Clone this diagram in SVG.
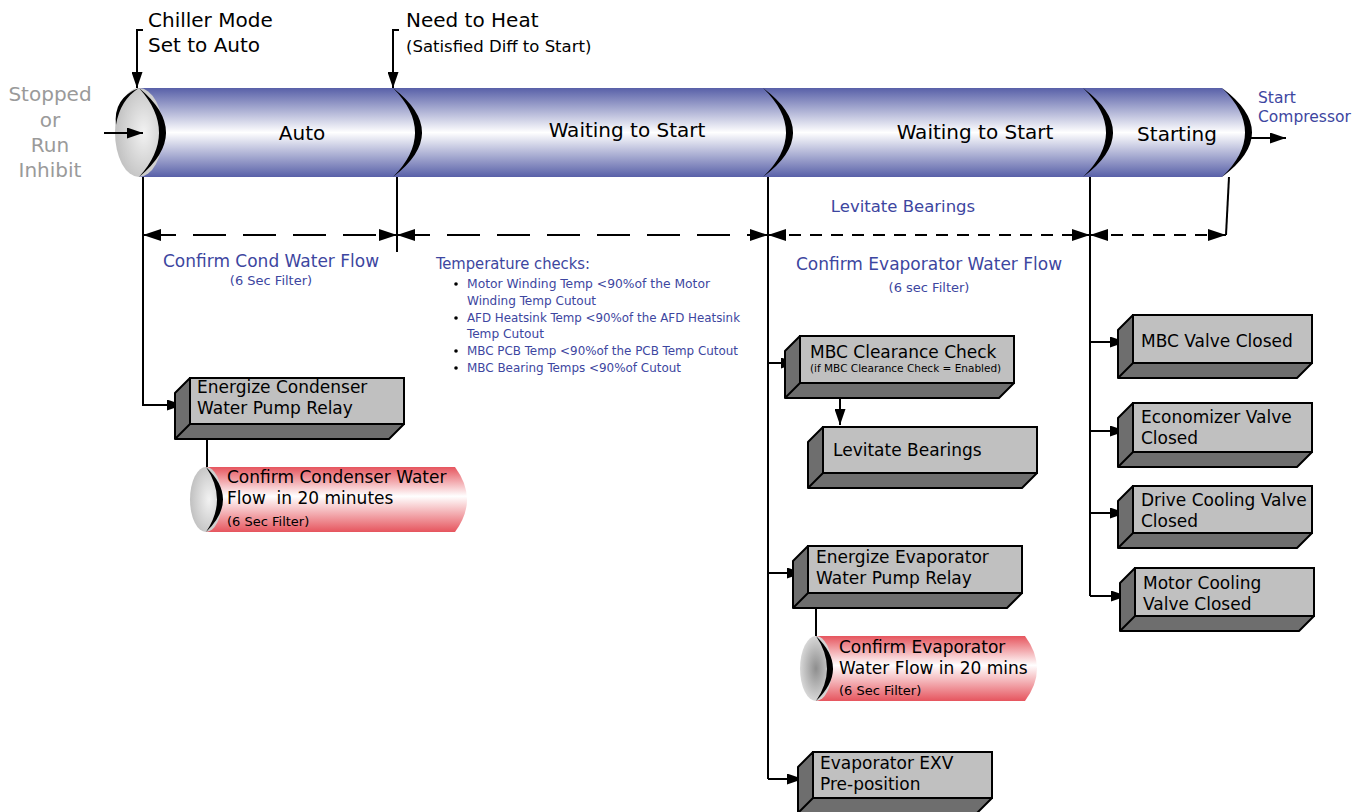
<svg xmlns="http://www.w3.org/2000/svg" width="1367" height="812" viewBox="0 0 1367 812">
<style>
.t{font-family:"DejaVu Sans","Liberation Sans",sans-serif;fill:#000}
.big{font-size:20px}
.bx{font-size:17px}
.blue{fill:#3d46a0}
.grey{fill:#9a9a9a}
.cond{font-family:"DejaVu Sans Condensed","DejaVu Sans","Liberation Sans",sans-serif;fill:#3d46a0}
.front{fill:#c0c0c0;stroke:#000;stroke-width:2}
.side{fill:#6e6e6e;stroke:#000;stroke-width:2;stroke-linejoin:round}
.ln{fill:none;stroke:#000;stroke-width:2}
.dl{fill:none;stroke:#000;stroke-width:2;stroke-dasharray:33 17}
.ds{fill:none;stroke:#000;stroke-width:2;stroke-dasharray:12 9}
</style>
<defs>
<linearGradient id="pipe" x1="0" y1="0" x2="0" y2="1">
<stop offset="0" stop-color="#5860a8"/>
<stop offset="0.5" stop-color="#ffffff"/>
<stop offset="1" stop-color="#5860a8"/>
</linearGradient>
<linearGradient id="red" x1="0" y1="0" x2="0" y2="1">
<stop offset="0" stop-color="#e6555e"/>
<stop offset="0.45" stop-color="#ffffff"/>
<stop offset="1" stop-color="#e6555e"/>
</linearGradient>
<radialGradient id="cap" cx="0.6" cy="0.5" r="0.7">
<stop offset="0" stop-color="#f2f2f2"/>
<stop offset="1" stop-color="#b8b8b8"/>
</radialGradient>
<radialGradient id="cap2" cx="0.5" cy="0.5" r="0.6">
<stop offset="0" stop-color="#8e8e8e"/>
<stop offset="1" stop-color="#e6e6e6"/>
</radialGradient>
<marker id="ah" markerUnits="userSpaceOnUse" markerWidth="16" markerHeight="11" refX="16" refY="5.5" orient="auto-start-reverse">
<path d="M0,0 L16,5.5 L0,11 Z" fill="#000"/>
</marker>
<marker id="ad" markerUnits="userSpaceOnUse" markerWidth="18" markerHeight="12" refX="18" refY="6" orient="auto-start-reverse">
<path d="M0,0 L18,6 L0,12 Z" fill="#000"/>
</marker>
</defs>
<rect width="1367" height="812" fill="#fff"/>

<g id="pipe-main">
<path d="M139,88 H1222 Q1278,132.5 1222,177 H139 Z" fill="url(#pipe)"/>
<ellipse cx="139" cy="132.5" rx="24" ry="44.5" fill="url(#cap)"/>
<path d="M139,88 Q193,132.5 139,177 Q179,132.5 139,88 Z" fill="#000"/>
<path d="M139,88 Q113,98 116,125 Q120,100 139,88 Z" fill="#000"/>
<path d="M393,88 Q451,132.5 393,177 Q437,132.5 393,88 Z" fill="#000"/>
<path d="M763,88 Q823,132.5 763,177 Q809,132.5 763,88 Z" fill="#000"/>
<path d="M1083,88 Q1143,132.5 1083,177 Q1129,132.5 1083,88 Z" fill="#000"/>
<path d="M1222,88 Q1282,132.5 1222,177 Q1268,132.5 1222,88 Z" fill="#000"/>
<text class="t big" x="302" y="140" text-anchor="middle">Auto</text>
<text class="t big" x="627" y="137" text-anchor="middle">Waiting to Start</text>
<text class="t big" x="975" y="139" text-anchor="middle">Waiting to Start</text>
<text class="t big" x="1177" y="141" text-anchor="middle">Starting</text>
</g>

<g id="labels">
<text class="t big grey" x="50" y="101" text-anchor="middle">Stopped</text>
<text class="t big grey" x="50" y="127" text-anchor="middle">or</text>
<text class="t big grey" x="50" y="152" text-anchor="middle">Run</text>
<text class="t big grey" x="50" y="177" text-anchor="middle">Inhibit</text>
<text class="t big" x="148" y="27">Chiller Mode</text>
<text class="t big" x="148" y="52">Set to Auto</text>
<text class="t big" x="406" y="27">Need to Heat</text>
<text class="t" x="406" y="52" font-size="16.5">(Satisfied Diff to Start)</text>
<text class="t blue" x="1258" y="103" font-size="15.5">Start</text>
<text class="t blue" x="1258" y="122" font-size="15.5">Compressor</text>
<text class="t blue" x="271" y="267" font-size="17" text-anchor="middle">Confirm Cond Water Flow</text>
<text class="t blue" x="271" y="285" font-size="13" text-anchor="middle">(6 Sec Filter)</text>
<text class="t blue" x="903" y="212" font-size="16.5" text-anchor="middle">Levitate Bearings</text>
<text class="t blue" x="929" y="270" font-size="17" text-anchor="middle">Confirm Evaporator Water Flow</text>
<text class="t blue" x="929" y="292" font-size="13" text-anchor="middle">(6 sec Filter)</text>
</g>

<g id="temperature-checks">
<text class="cond" x="436" y="269" font-size="16" textLength="154" lengthAdjust="spacingAndGlyphs">Temperature checks:</text>
<g fill="#000">
<circle cx="456" cy="284" r="1.8"/>
<circle cx="456" cy="318" r="1.8"/>
<circle cx="456" cy="351" r="1.8"/>
<circle cx="456" cy="368" r="1.8"/>
</g>
<g font-size="12.5">
<text class="cond" x="467" y="288" textLength="243" lengthAdjust="spacingAndGlyphs">Motor Winding Temp &lt;90%of the Motor</text>
<text class="cond" x="467" y="305" textLength="129" lengthAdjust="spacingAndGlyphs">Winding Temp Cutout</text>
<text class="cond" x="467" y="322" textLength="273" lengthAdjust="spacingAndGlyphs">AFD Heatsink Temp &lt;90%of the AFD Heatsink</text>
<text class="cond" x="467" y="338" textLength="77" lengthAdjust="spacingAndGlyphs">Temp Cutout</text>
<text class="cond" x="467" y="355" textLength="271" lengthAdjust="spacingAndGlyphs">MBC PCB Temp &lt;90%of the PCB Temp Cutout</text>
<text class="cond" x="467" y="372" textLength="214" lengthAdjust="spacingAndGlyphs">MBC Bearing Temps &lt;90%of Cutout</text>
</g>
</g>

<g id="connectors">
<path class="ln" d="M143,30 H137 V88" marker-end="url(#ah)"/>
<path class="ln" d="M399,30 H393 V88" marker-end="url(#ah)"/>
<path class="ln" d="M104,133 H143" marker-end="url(#ah)"/>
<path class="ln" d="M1250,138 H1286" marker-end="url(#ah)"/>
<path class="ln" d="M143,177 V405 H183" marker-end="url(#ah)"/>
<path class="ln" d="M397,177 V252"/>
<path class="ln" d="M768,177 V779"/>
<path class="ln" d="M1090,177 V596"/>
<path class="ln" d="M1229,177 L1226,235"/>
<path class="dl" d="M143,235 H397" marker-start="url(#ad)" marker-end="url(#ad)"/>
<path class="dl" d="M397,235 H768" marker-start="url(#ad)" marker-end="url(#ad)"/>
<path class="ds" d="M768,235 H1090" marker-start="url(#ad)" marker-end="url(#ad)"/>
<path class="ds" d="M1090,235 H1226" marker-start="url(#ad)" marker-end="url(#ad)"/>
<path class="ln" d="M768,363 H797" marker-end="url(#ah)"/>
<path class="ln" d="M840,394 V425" marker-end="url(#ah)"/>
<path class="ln" d="M768,573 H803" marker-end="url(#ah)"/>
<path class="ln" d="M768,779 H803" marker-end="url(#ah)"/>
<path class="ln" d="M1090,342 H1126" marker-end="url(#ah)"/>
<path class="ln" d="M1090,431 H1126" marker-end="url(#ah)"/>
<path class="ln" d="M1090,513 H1126" marker-end="url(#ah)"/>
<path class="ln" d="M1090,596 H1127" marker-end="url(#ah)"/>
<path class="ln" d="M207,424 V467"/>
<path class="ln" d="M816,593 V636"/>
</g>

<g id="energize-condenser">
<path class="side" d="M190,378 L175,393 V439 H389 L404,424 H190 Z"/>
<path class="ln" d="M190,424 L175,439"/>
<rect class="front" x="190" y="378" width="214" height="46"/>
<text class="t bx" x="197" y="393">Energize Condenser</text>
<text class="t bx" x="197" y="414">Water Pump Relay</text>
</g>

<g id="confirm-condenser-flow">
<path d="M206,467 H455 Q479,499.5 455,532 H206 Z" fill="url(#red)"/>
<ellipse cx="206" cy="499.5" rx="16" ry="32.5" fill="url(#cap)"/>
<path d="M206,467 Q240,499.5 206,532 Q228,499.5 206,467 Z" fill="#000"/>
<text class="t bx" x="227" y="483">Confirm Condenser Water</text>
<text class="t bx" x="227" y="504" xml:space="preserve">Flow  in 20 minutes</text>
<text class="t" x="227" y="526" font-size="13">(6 Sec Filter)</text>
</g>

<g id="mbc-clearance">
<path class="side" d="M800,336 L785,351 V398 H999 L1014,383 H800 Z"/>
<path class="ln" d="M800,383 L785,398"/>
<rect class="front" x="800" y="336" width="214" height="47"/>
<text class="t bx" x="810" y="358">MBC Clearance Check</text>
<text class="t" x="810" y="372" font-size="10.5">(if MBC Clearance Check = Enabled)</text>
</g>

<g id="levitate-bearings">
<path class="side" d="M823,427 L808,442 V488 H1022 L1037,473 H823 Z"/>
<path class="ln" d="M823,473 L808,488"/>
<rect class="front" x="823" y="427" width="214" height="46"/>
<text class="t bx" x="833" y="456">Levitate Bearings</text>
</g>

<g id="energize-evaporator">
<path class="side" d="M808,546 L793,561 V608 H1007 L1022,593 H808 Z"/>
<path class="ln" d="M808,593 L793,608"/>
<rect class="front" x="808" y="546" width="214" height="47"/>
<text class="t bx" x="816" y="563">Energize Evaporator</text>
<text class="t bx" x="816" y="584">Water Pump Relay</text>
</g>

<g id="confirm-evaporator-flow">
<path d="M816,636 H1025 Q1049,668.5 1025,701 H816 Z" fill="url(#red)"/>
<ellipse cx="816" cy="668.5" rx="16" ry="32.5" fill="url(#cap2)"/>
<path d="M816,636 Q850,668.5 816,701 Q838,668.5 816,636 Z" fill="#000"/>
<text class="t bx" x="839" y="653">Confirm Evaporator</text>
<text class="t bx" x="839" y="674">Water Flow in 20 mins</text>
<text class="t" x="839" y="695" font-size="13">(6 Sec Filter)</text>
</g>

<g id="evaporator-exv">
<path class="side" d="M813,752 L798,767 V813 H977 L992,798 H813 Z"/>
<path class="ln" d="M813,798 L798,813"/>
<rect class="front" x="813" y="752" width="179" height="46"/>
<text class="t bx" x="820" y="769">Evaporator EXV</text>
<text class="t bx" x="820" y="790">Pre-position</text>
</g>

<g id="mbc-valve">
<path class="side" d="M1133,315 L1118,330 V378 H1297 L1312,363 H1133 Z"/>
<path class="ln" d="M1133,363 L1118,378"/>
<rect class="front" x="1133" y="315" width="179" height="48"/>
<text class="t bx" x="1141" y="347">MBC Valve Closed</text>
</g>

<g id="economizer-valve">
<path class="side" d="M1133,403 L1118,418 V467 H1297 L1312,452 H1133 Z"/>
<path class="ln" d="M1133,452 L1118,467"/>
<rect class="front" x="1133" y="403" width="179" height="49"/>
<text class="t bx" x="1141" y="423">Economizer Valve</text>
<text class="t bx" x="1141" y="444">Closed</text>
</g>

<g id="drive-cooling-valve">
<path class="side" d="M1133,486 L1118,501 V548 H1297 L1312,533 H1133 Z"/>
<path class="ln" d="M1133,533 L1118,548"/>
<rect class="front" x="1133" y="486" width="179" height="47"/>
<text class="t bx" x="1141" y="506">Drive Cooling Valve</text>
<text class="t bx" x="1141" y="527">Closed</text>
</g>

<g id="motor-cooling-valve">
<path class="side" d="M1135,568 L1120,583 V631 H1299 L1314,616 H1135 Z"/>
<path class="ln" d="M1135,616 L1120,631"/>
<rect class="front" x="1135" y="568" width="179" height="48"/>
<text class="t bx" x="1143" y="589">Motor Cooling</text>
<text class="t bx" x="1143" y="610">Valve Closed</text>
</g>
</svg>
